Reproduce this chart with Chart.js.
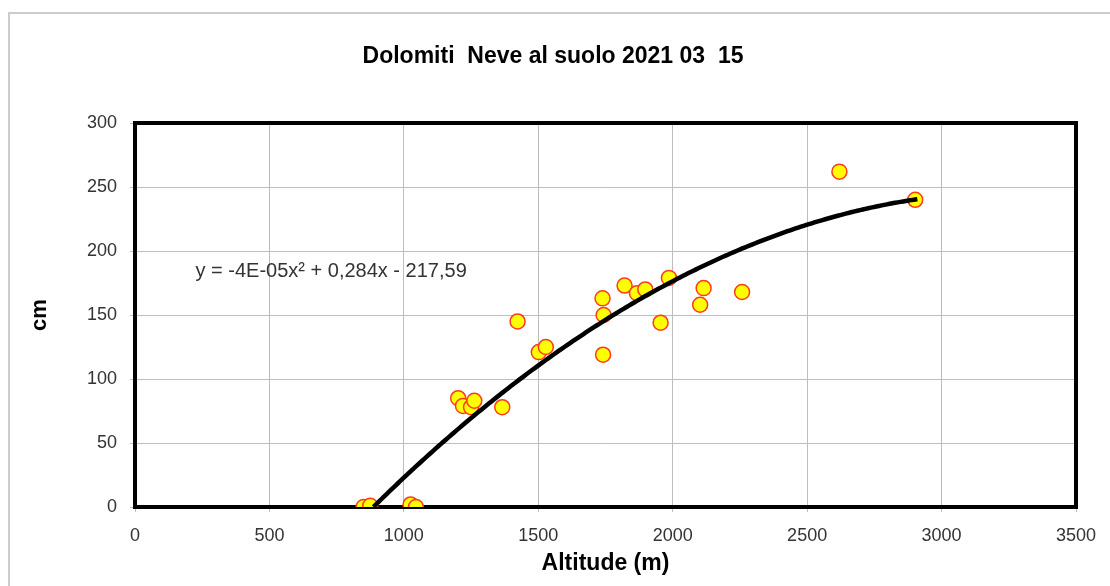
<!DOCTYPE html>
<html>
<head>
<meta charset="utf-8">
<script src="https://cdn.jsdelivr.net/npm/chart.js@4"></script>
<style>
    body { margin: 0; background: #fff; overflow: hidden; }
    #wrap { position: relative; width: 1110px; height: 586px; overflow: hidden; }
    #frame { position: absolute; left: 8px; top: 12px; right: 0; bottom: 0; border-top: 2px solid #cccccc; border-left: 2px solid #cccccc; }
    canvas { position: absolute; left: 0; top: 0; }
</style>
</head>
<body>
<div id="wrap">
    <div id="frame"></div>
    <canvas id="chart" width="1110" height="586"></canvas>
</div>
<script>
// Measured stations: altitude (m) and snow depth (cm)
const altitude = [850, 875, 1025, 1045, 1202, 1220, 1250, 1262, 1366, 1423, 1502, 1528, 1739, 1743, 1741, 1821, 1867, 1898, 1955, 1986, 2102, 2115, 2258, 2620, 2902];
const snowDepth = [0, 1, 2, 0, 85, 79, 78, 83, 78, 145, 121, 125, 163, 150, 119, 173, 167, 170, 144, 179, 158, 171, 168, 262, 240];

// Polynomial trend line (a*x^2 + b*x + c) and its drawn range
const trendCoef = [-4.35e-5, 0.284, -217.59];
const trendRange = [887, 2910];
const trendLabel = "y = -4E-05x\u00B2 + 0,284x - 217,59";

const titleText = "Dolomiti  Neve al suolo 2021 03  15";
const xTitle = "Altitude (m)";
const yTitle = "cm";

const FONT = "'Liberation Sans', Arial, sans-serif";

// build scatter points
const points = altitude.map((a, i) => ({ x: a, y: snowDepth[i] }));

// trend line points
const trend = x => trendCoef[0] * x * x + trendCoef[1] * x + trendCoef[2];
const trendPoints = [];
for (let x = trendRange[0]; x < trendRange[1]; x += 10) {
    trendPoints.push({ x: x, y: trend(x) });
}
trendPoints.push({ x: trendRange[1], y: trend(trendRange[1]) });

// Thick frame round the plot area, title and equation text
const plotFrame = {
    id: "plotFrame",
    beforeDatasetsDraw(chart) {
        const { ctx, chartArea: a } = chart;
        ctx.save();
        ctx.strokeStyle = "#000";
        ctx.lineWidth = 4;
        ctx.strokeRect(a.left, a.top, a.right - a.left, a.bottom - a.top);

        const xs = chart.scales.x, ys = chart.scales.y;
        ctx.fillStyle = "#333";
        ctx.font = "20px " + FONT;
        ctx.textBaseline = "middle";
        ctx.textAlign = "left";
        ctx.fillText(trendLabel, xs.getPixelForValue(225), ys.getPixelForValue(184));

        ctx.fillStyle = "#000";
        ctx.font = "bold 23px " + FONT;
        ctx.textAlign = "center";
        ctx.fillText(titleText, 553, 57);
        ctx.restore();
    }
};

new Chart(document.getElementById("chart"), {
    type: "scatter",
    data: {
        datasets: [
            {
                type: "line",
                data: trendPoints,
                borderColor: "#000",
                borderWidth: 4.5,
                pointRadius: 0,
                tension: 0,
                fill: false,
                order: 0
            },
            {
                data: points,
                backgroundColor: "#ffff00",
                borderColor: "#ff3a1a",
                borderWidth: 1.5,
                pointRadius: 7.5,
                order: 1
            }
        ]
    },
    options: {
        responsive: false,
        animation: false,
        devicePixelRatio: 1,
        layout: { padding: { left: 0, right: 34, top: 123, bottom: 0 } },
        plugins: {
            legend: { display: false },
            tooltip: { enabled: false },
            title: { display: false }
        },
        scales: {
            x: {
                type: "linear",
                min: 0,
                max: 3500,
                afterFit: s => { s.height = 79; },
                ticks: {
                    stepSize: 500, color: "#333", font: { family: FONT, size: 18 }, padding: 13, maxRotation: 0,
                    callback: v => String(v)
                },
                grid: { color: "#bdbdbd", lineWidth: 1, tickLength: 5 },
                border: { display: false },
                title: {
                    display: true,
                    text: xTitle,
                    color: "#000",
                    font: { family: FONT, size: 23, weight: "bold" },
                    padding: { top: 0, bottom: 9 }
                }
            },
            y: {
                min: 0,
                max: 300,
                afterFit: s => { s.width = 135; },
                ticks: {
                    stepSize: 50, color: "#333", font: { family: FONT, size: 18 }, padding: 13,
                    callback: v => String(v)
                },
                grid: { color: "#bdbdbd", lineWidth: 1, tickLength: 5 },
                border: { display: false },
                title: {
                    display: true,
                    text: yTitle,
                    color: "#000",
                    font: { family: FONT, size: 22, weight: "bold" },
                    padding: { top: 27, bottom: 0 }
                }
            }
        }
    },
    plugins: [plotFrame]
});
</script>
</body>
</html>
